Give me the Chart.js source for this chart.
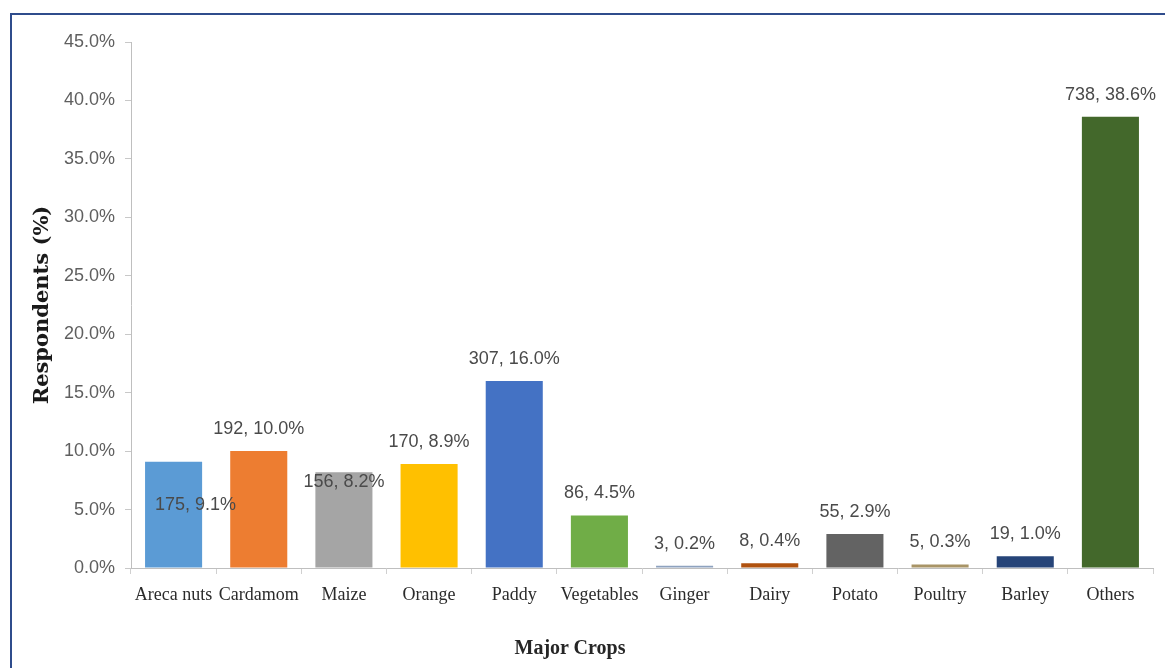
<!DOCTYPE html>
<html lang="en">

  <head>
    <meta charset="UTF-8">
    <title>Major Crops</title>
    <script src="https://cdn.jsdelivr.net/npm/chart.js"></script>
    <style>
      html, body {
        margin: 0;
        padding: 0;
        background: #ffffff;
        overflow: hidden;
      }

      .frame {
        position: absolute;
        left: 10px;
        top: 13px;
        width: 1200px;
        height: 700px;
        border-left: 2px solid #2f4c8c;
        border-top: 2px solid #2f4c8c;
      }

      .chart-box {
        position: absolute;
        left: 0;
        top: 0;
        width: 1165px;
        height: 668px;
      }

      .x-title {
        position: absolute;
        left: 570px;
        top: 636px;
        transform: translateX(-50%);
        font: bold 20px "Liberation Serif", serif;
        color: #262626;
        white-space: nowrap;
      }
    </style>
  </head>

  <body>
    <div class="frame"></div>
    <div class="chart-box">
      <canvas id="cropsChart" width="1165" height="668"></canvas>
    </div>
    <div class="x-title">Major Crops</div>

    <script>
      // Crops and survey responses
      const crops = ['Areca nuts', 'Cardamom', 'Maize', 'Orange', 'Paddy', 'Vegetables',
                     'Ginger', 'Dairy', 'Potato', 'Poultry', 'Barley', 'Others'];
      const respondents = [175, 192, 156, 170, 307, 86, 3, 8, 55, 5, 19, 738];
      const percentShare = [9.1, 10.0, 8.2, 8.9, 16.0, 4.5, 0.2, 0.4, 2.9, 0.3, 1.0, 38.6];
      const yTicks = [0, 5, 10, 15, 20, 25, 30, 35, 40, 45];

      const barColors = ['#5b9bd5', '#ed7d31', '#a5a5a5', '#ffc000', '#4472c4', '#70ad47',
                         '#8ea2bf', '#b0520f', '#636363', '#a89466', '#264478', '#43682b'];

      // where each value label sits relative to the top of its bar
      const labelShift = {
        'Areca nuts': { dx: 22, dy: 43 },
        'Maize': { dx: 0, dy: 10 },
      };

      const valueLabels = {
        id: 'valueLabels',
        afterDatasetsDraw(chart) {
          const { ctx } = chart;
          const meta = chart.getDatasetMeta(0);
          ctx.save();
          ctx.font = '18px "Liberation Sans", Arial, sans-serif';
          ctx.fillStyle = '#4a4a4a';
          ctx.textAlign = 'center';
          ctx.textBaseline = 'middle';
          meta.data.forEach((bar, i) => {
            const shift = labelShift[crops[i]] || { dx: 0, dy: -22 };
            const text = respondents[i] + ', ' + percentShare[i].toFixed(1) + '%';
            ctx.fillText(text, bar.x + shift.dx, bar.y + shift.dy);
          });
          ctx.restore();
        }
      };

      const ctx = document.getElementById('cropsChart').getContext('2d');
      new Chart(ctx, {
        type: 'bar',
        data: {
          labels: crops,
          datasets: [{
            data: percentShare,
            backgroundColor: barColors,
            borderWidth: 0,
            categoryPercentage: 1,
            barPercentage: 0.67,
          }],
        },
        options: {
          responsive: false,
          animation: false,
          layout: {
            padding: { left: 0, right: 12, top: 42, bottom: 0 },
          },
          plugins: {
            legend: { display: false },
            tooltip: { enabled: false },
          },
          scales: {
            y: {
              min: 0,
              max: 45,
              afterBuildTicks: (axis) => {
                axis.ticks = yTicks.map(v => ({ value: v }));
              },
              afterFit: (axis) => { axis.width = 131; },
              ticks: {
                padding: 10,
                color: '#5f5f5f',
                font: { family: '"Liberation Sans", Arial, sans-serif', size: 18 },
                callback: (v) => v.toFixed(1) + '%',
              },
              grid: {
                drawOnChartArea: false,
                drawTicks: true,
                tickLength: 6,
                tickColor: '#c8c8c8',
              },
              border: { color: '#bfbfbf', width: 1 },
              title: {
                display: true,
                text: 'Respondents (%)',
                color: '#1a1a1a',
                padding: { top: 30, bottom: 0 },
                font: { family: '"DejaVu Serif", serif', size: 21, weight: 'bold' },
              },
            },
            x: {
              afterFit: (axis) => { axis.height = 100; },
              ticks: {
                padding: 10,
                maxRotation: 0,
                autoSkip: false,
                color: '#2b2b2b',
                font: { family: '"Liberation Serif", serif', size: 18 },
              },
              grid: {
                offset: true,
                drawOnChartArea: false,
                drawTicks: true,
                tickLength: 6,
                tickColor: '#d0d0d0',
              },
              border: { color: '#bfbfbf', width: 1 },
            },
          },
        },
        plugins: [valueLabels],
      });
    </script>
  </body>

</html>
